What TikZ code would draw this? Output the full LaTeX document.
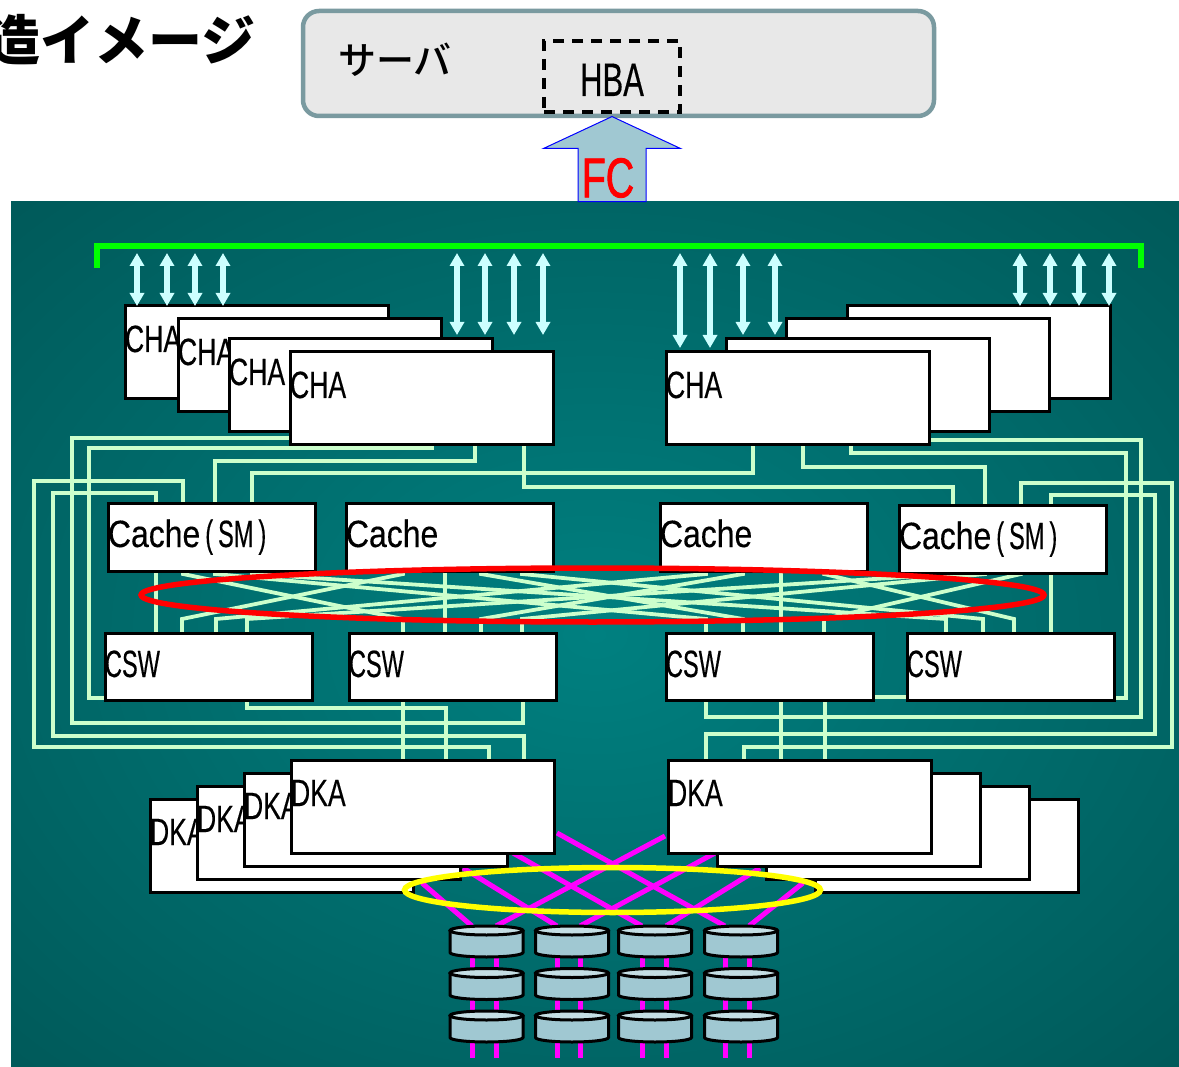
\documentclass[tikz,border=0pt]{standalone}
\usepackage{fontspec}
\usetikzlibrary{shapes.geometric,shapes.arrows,arrows.meta}
\setmainfont{Liberation Sans}
\newfontfamily\cardfont[FakeStretch=0.7,FakeBold=0.3]{Liberation Sans}
\newfontfamily\hbafam[FakeStretch=0.66,FakeBold=0.3]{Liberation Sans}
\newfontfamily\fcfam[FakeStretch=0.7,FakeBold=1.5]{Liberation Sans}
\newfontfamily\cachefam[FakeStretch=0.84,FakeBold=0.3]{Liberation Sans}
\newfontfamily\cswfam[FakeStretch=0.62,FakeBold=0.3]{Liberation Sans}
\newfontfamily\jpfont{Noto Sans CJK JP Medium}
\newfontfamily\jpheavy{Noto Sans CJK JP}
\newcommand{\chafont}{\cardfont\fontsize{38pt}{40pt}\selectfont}
\newcommand{\cachefont}{\cachefam\fontsize{38pt}{40pt}\selectfont}
\newcommand{\cswfont}{\cswfam\fontsize{38pt}{40pt}\selectfont}
\definecolor{glowin}{HTML}{008080}
\definecolor{glowout}{HTML}{005A5A}
\definecolor{wirecol}{HTML}{CCFFCC}
\definecolor{palecyan}{HTML}{CCFFFF}
\definecolor{diskblue}{HTML}{A0C8D2}
\definecolor{disktop}{HTML}{C4DEE4}
\definecolor{servedge}{HTML}{7A9AA0}
\definecolor{fibrecol}{HTML}{FF00FF}
\definecolor{buscol}{HTML}{00FF00}
\definecolor{ringred}{HTML}{FF0000}
\definecolor{ringyel}{HTML}{FFFF00}
\definecolor{fcblue}{HTML}{0000FF}
\pgfdeclareradialshading{fabricglow}{\pgfpoint{0bp}{0bp}}{color(0bp)=(glowin); color(35bp)=(glowout); color(50bp)=(glowout)}
\pgfdeclarelayer{backdrop}
\pgfdeclarelayer{wires}
\pgfsetlayers{backdrop,wires,main}

\begin{document}
\begin{tikzpicture}[
  x=1pt,y=-1pt,
  plate/.style={draw=black,line width=3pt,fill=white,inner sep=0pt,outer sep=0pt,
                anchor=north west,align=left},
  chabox/.style={plate,font=\chafont,text width=263pt,text height=46pt,text depth=47pt},
  cachebox/.style={plate,font=\cachefont,text width=207pt,text height=44pt,text depth=24pt},
  cswbox/.style={plate,font=\cswfont,text width=207pt,text height=44pt,text depth=23pt},
  wire/.style={draw=wirecol,line width=3.8pt},
  fibre/.style={draw=fibrecol,line width=5pt},
  dblarr/.style={draw=palecyan,line width=5.5pt,
                 {Triangle[length=13pt,width=14pt]}-{Triangle[length=13pt,width=14pt]}},
  ring/.style={ellipse,draw=#1,line width=5.5pt,inner sep=0pt,outer sep=0pt},
  diskspot/.style={minimum width=73pt,minimum height=31pt,inner sep=0pt,outer sep=0pt},
  diskline/.style={draw=black,line width=3pt},
  fcarrow/.style={single arrow,draw=fcblue,fill=diskblue,line width=1pt,rotate=90,
                  minimum height=85pt,text height=67pt,text depth=0pt,inner sep=0pt,
                  single arrow head extend=34.5pt,single arrow tip angle=130}
]
\useasboundingbox (0,0) rectangle (1179,1067);
\begin{pgfonlayer}{backdrop}
\shade[shading=fabricglow] (11,202) rectangle (1179,1067);
\end{pgfonlayer}

% server
\node[font=\jpheavy\bfseries\fontsize{54pt}{56pt}\selectfont,anchor=east,inner sep=0pt] (title) at (256,40) {造イメージ};
\node[draw=servedge,fill=black!9,line width=4.5pt,rounded corners=16pt,anchor=north west,
      minimum width=631pt,minimum height=105pt,inner sep=0pt,outer sep=0pt] (server) at (303,11) {};
\node[font=\jpfont\fontsize{38pt}{40pt}\selectfont,inner sep=0pt] (servname) at (395,60) {サーバ};
\node[draw,line width=3.5pt,dash pattern=on 11pt off 8pt,anchor=north west,inner sep=0pt,outer sep=0pt,
      align=center,text width=136pt,text height=55pt,text depth=16pt,
      font=\hbafam\fontsize{47pt}{49pt}\selectfont] (hba) at (544,41) {HBA};
\node[fcarrow,anchor=tip] (fcup) at (server.south -| hba.south) {};
\node[text=ringred,font=\fcfam\fontsize{56pt}{58pt}\selectfont,inner sep=0pt] (fclabel) at (608,178) {FC};

% CHA boards
\node[chabox] (chaA) at (125,306) {CHA};
\node[chabox] (chaB) at (178,319) {CHA};
\node[chabox] (chaC) at (229,339) {CHA};
\node[chabox] (chaD) at (290,352) {CHA};
\node[chabox] (chaH) at (847,306) {};
\node[chabox] (chaG) at (786,319) {CHA};
\node[chabox] (chaF) at (726,339) {};
\node[chabox] (chaE) at (666,352) {CHA};

% cache and switch rows
\node[cachebox] (cacheA) at (108,503) {Cache\kern5pt{\cswfam(\kern5pt SM\kern5pt)}};
\node[cachebox] (cacheB) at (346,503) {Cache};
\node[cachebox] (cacheC) at (660,503) {Cache};
\node[cachebox] (cacheD) at (899,505) {Cache\kern5pt{\cswfam(\kern5pt SM\kern5pt)}};
\node[cswbox] (cswA) at (105,633) {CSW};
\node[cswbox] (cswB) at (349,633) {CSW};
\node[cswbox] (cswC) at (666,633) {CSW};
\node[cswbox] (cswD) at (907,633) {CSW};

% DKA boards
\node[chabox] (dkaA) at (150,799) {DKA};
\node[chabox] (dkaB) at (197,786) {DKA};
\node[chabox] (dkaC) at (244,773) {DKA};
\node[chabox] (dkaD) at (291,760) {DKA};
\node[chabox] (dkaH) at (815,799) {};
\node[chabox] (dkaG) at (766,786) {};
\node[chabox] (dkaF) at (717,773) {};
\node[chabox] (dkaE) at (668,760) {DKA};

% disks
\foreach \col/\cx in {a/486.5,b/572,c/655,d/741}
  \foreach \row/\ry in {1/941.5,2/984,3/1026.5}{
    \node[diskspot] (disk\col\row) at (\cx,\ry) {};
    \begin{scope}[shift={(disk\col\row.center)}]
      \draw[diskline,fill=diskblue] (-36.5,-11) -- (-36.5,11)
        arc[x radius=36.5pt,y radius=4.5pt,start angle=180,end angle=360] -- (36.5,-11);
      \draw[diskline,fill=disktop] (0,-11) ellipse[x radius=36.5pt,y radius=4.5pt];
    \end{scope}
  }

\node[ring=ringred,minimum width=903pt,minimum height=54pt] (cacheRing) at (592.5,595) {};
\node[ring=ringyel,minimum width=416pt,minimum height=45pt] (diskRing) at (612.5,890) {};

% bus and its arrows
\coordinate (busL) at (97,268);
\coordinate (busR) at (1141,268);
\draw[draw=buscol,line width=6pt] (busL) -- (97,246) -- (1141,246) -- (busR);
\coordinate (portTop) at (0,253);
\foreach \x in {137,167,195,223,1020,1050,1079,1109}
  \draw[dblarr] (\x,0 |- portTop) -- (\x,0 |- chaA.north);
\foreach \x in {457,485,514,543,743,775}
  \draw[dblarr,shorten >=4pt] (\x,0 |- portTop) -- (\x,0 |- chaC.north);
\foreach \x in {680,710}
  \draw[dblarr,shorten >=4pt] (\x,0 |- portTop) -- (\x,0 |- chaE.north);

\begin{pgfonlayer}{wires}
% left side
\draw[wire] (chaD.west |- 0,438) -- (72,438) -- (72,723) -- (523,723) -- (523,0 |- cswB.south);
\draw[wire] (432,0 |- chaD.south) -- (432,448) -- (89,448) -- (89,698) -- (cswA.west |- 0,698);
\draw[wire] (475,0 |- chaD.south) -- (475,461) -- (215,461) -- (215,0 |- cacheA.north);
\draw[wire] (524,0 |- chaD.south) -- (524,487) -- (953,487) -- (953,0 |- cacheD.north);
\draw[wire] (252,0 |- cacheA.north) -- (252,473) -- (753,473) -- (753,0 |- chaE.south);
\draw[wire] (183,0 |- cacheA.north) -- (183,481) -- (34,481) -- (34,747) -- (489,747) -- (489,0 |- dkaD.north);
\draw[wire] (156,0 |- cacheA.north) -- (156,493) -- (53,493) -- (53,736) -- (524,736) -- (524,0 |- dkaD.north);
\draw[wire] (247,0 |- cswA.south) -- (247,708) -- (446,708) -- (446,0 |- dkaD.north);
\draw[wire] (403,0 |- cswB.south) -- (403,0 |- dkaD.north);
% right side
\draw[wire] (chaE.east |- 0,440) -- (1141,440) -- (1141,717) -- (706,717) -- (706,0 |- cswC.south);
\draw[wire] (851,0 |- chaE.south) -- (851,453) -- (1126,453) -- (1126,698) -- (cswD.east |- 0,698);
\draw[wire] (803,0 |- chaE.south) -- (803,467) -- (985,467) -- (985,0 |- cacheD.north);
\draw[wire] (1021,0 |- cacheD.north) -- (1021,483) -- (1172,483) -- (1172,747) -- (744,747) -- (744,0 |- dkaE.north);
\draw[wire] (1051,0 |- cacheD.north) -- (1051,495) -- (1155,495) -- (1155,734) -- (706,734) -- (706,0 |- dkaE.north);
\draw[wire] (cswC.east |- 0,697) -- (cswD.west |- 0,697);
\draw[wire] (781,0 |- cswC.south) -- (781,0 |- dkaE.north);
\draw[wire] (825,0 |- cswC.south) -- (825,0 |- dkaE.north);
% cache to switch mesh
\foreach \tx/\bx/\ca/\cs in {156/156/cacheA/cswA,183/403/cacheA/cswB,215/706/cacheA/cswC,252/946/cacheA/cswD,
    403/182/cacheB/cswA,445/445/cacheB/cswB,481/743/cacheB/cswC,522/983/cacheB/cswD,
    706/216/cacheC/cswA,743/481/cacheC/cswB,781/781/cacheC/cswC,824/1014/cacheC/cswD,
    953/247/cacheD/cswA,985/522/cacheD/cswB,1021/824/cacheD/cswC,1051/1051/cacheD/cswD}
  \draw[wire] (\tx,0 |- \ca.south) -- (\tx,574) -- (\bx,619) -- (\bx,0 |- \cs.north);
% disk fibres
\foreach \i/\sx/\sy/\px/\dk in {a/557/833/725/d,b/665/836/496/a,c/513/853/642/c,d/715/853/580/b,
    e/463/868/557/b,f/760/868/666/c,g/422/883/472/a,h/803/883/749/d}{
  \coordinate (fan\i) at (\sx,\sy);
  \draw[fibre] (fan\i) -- (\px,0 |- disk\dk1.north);
  \draw[fibre] (\px,0 |- disk\dk1.north) -- (\px,1058);
}
\end{pgfonlayer}
\end{tikzpicture}
\end{document}
